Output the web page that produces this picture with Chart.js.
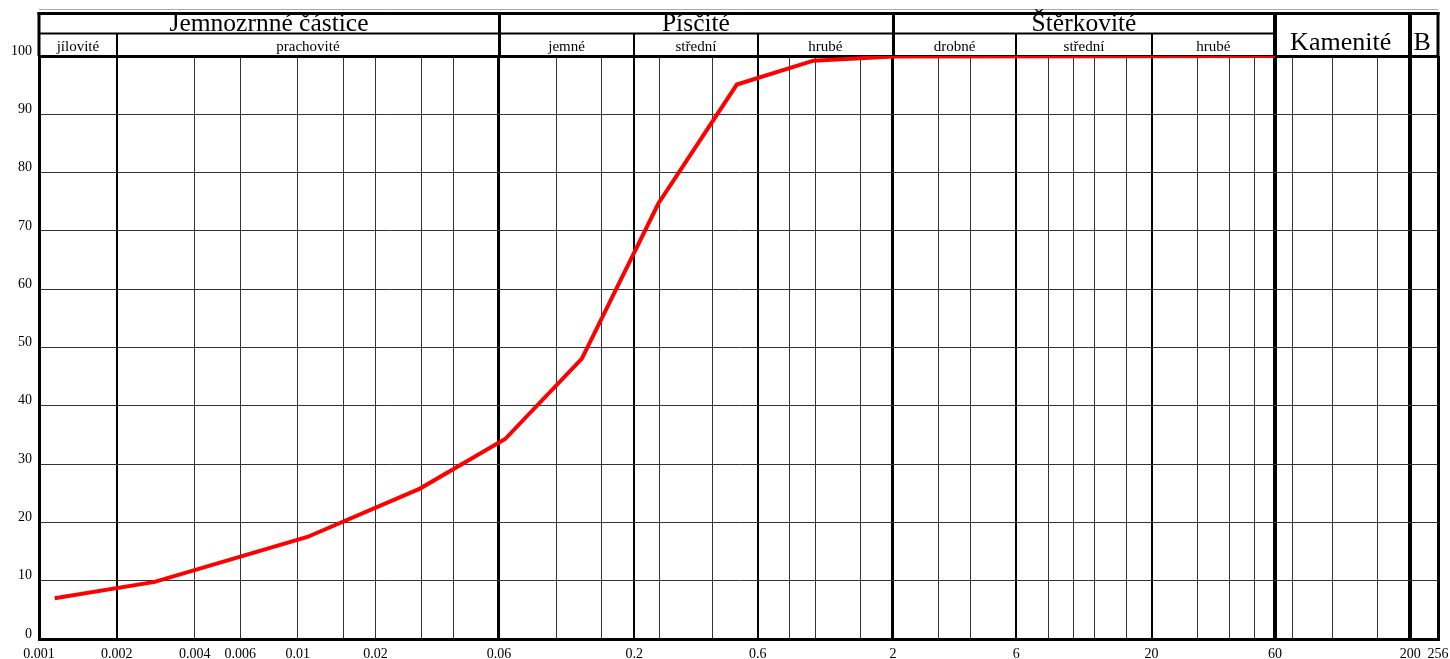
<!DOCTYPE html>
<html>
<head>
<meta charset="utf-8">
<script src="https://cdn.jsdelivr.net/npm/chart.js@4/dist/chart.umd.min.js"></script>
<style>
html,body{margin:0;padding:0;background:#fff;}
#wrap{width:1450px;height:659px;}
</style>
</head>
<body>
<div id="wrap"><canvas id="c" width="1450" height="659"></canvas></div>
<script>
// ---- data ----
const grainSize = [0.00115, 0.0028, 0.0109, 0.0297, 0.0634, 0.1255, 0.248, 0.4985, 0.986, 2, 60];
const passing   = [7.0, 9.8, 17.5, 25.8, 34.3, 48.1, 74.7, 95.1, 99.2, 99.9, 100];

const gridSizes = [0.001,0.002,0.004,0.006,0.01,0.015,0.02,0.03,0.04,0.06,0.1,0.15,0.2,0.25,0.4,0.6,0.8,1,1.5,2,3,4,6,8,10,12,16,20,30,40,50,60,70,100,150,200,256];
const labeledSizes = ['0.001','0.002','0.004','0.006','0.01','0.02','0.06','0.2','0.6','2','6','20','60','200','256'];
const yTicks = [0,10,20,30,40,50,60,70,80,90,100];

const groupNames  = ['Jemnozrnné částice','Písčité','Štěrkovité'];
const groupBounds = [0.001, 0.06, 2, 60];
const tallNames   = ['Kamenité','B'];
const tallBounds  = [60, 200, 256];
const subNames    = ['jílovité','prachovité','jemné','střední','hrubé','drobné','střední','hrubé'];
const subBounds   = [0.001, 0.002, 0.06, 0.2, 0.6, 2, 6, 20, 60];

// ---- styles ----
const SERIF = '"Liberation Serif","Times New Roman",serif';
function widthFor(v) {
  const near = (a) => Math.abs(v - a) / a < 1e-6;
  if (near(60) || near(200)) return 4;
  if (near(0.06) || near(2) || near(256) || near(0.001)) return 3;
  if (near(0.002) || near(0.2) || near(0.6) || near(6) || near(20)) return 2;
  return 1;
}
function colorFor(v) { return widthFor(v) > 1 ? '#000' : '#333'; }

const headerPlugin = {
  id: 'header',
  afterDraw(chart) {
    const {ctx, chartArea: a, scales: {x}} = chart;
    const px = v => x.getPixelForValue(v);
    const line = (x1, y1, x2, y2, w, c) => {
      ctx.beginPath(); ctx.lineWidth = w; ctx.strokeStyle = c || '#000';
      ctx.moveTo(x1, y1); ctx.lineTo(x2, y2); ctx.stroke();
    };
    const topY = 13.5, midY = 33.5;
    ctx.save();
    line(a.left, 9.5, a.right, 9.5, 1, '#aaa');
    line(a.left - 1.5, topY, a.right + 1.5, topY, 3);
    line(a.left, midY, px(60), midY, 2);
    // edges
    line(px(0.001), topY - 1.5, px(0.001), a.top, 3);
    line(a.right, topY - 1.5, a.right, a.top, 3);
    groupBounds.slice(1).forEach(v => {
      const xx = Math.round(px(v)) + (widthFor(v) % 2 ? 0.5 : 0);
      line(xx, topY, xx, a.top, widthFor(v));
    });
    tallBounds.slice(1, -1).forEach(v => line(Math.round(px(v)), topY, Math.round(px(v)), a.top, widthFor(v)));
    subBounds.slice(1, -1).forEach(v => {
      if (groupBounds.includes(v)) return;
      const xx = Math.round(px(v));
      line(xx, midY, xx, a.top, widthFor(v));
    });
    ctx.fillStyle = '#000';
    ctx.textAlign = 'center';
    ctx.textBaseline = 'alphabetic';
    ctx.font = '25.5px ' + SERIF;
    groupNames.forEach((n, i) => {
      ctx.fillText(n, (px(groupBounds[i]) + px(groupBounds[i + 1])) / 2, 31);
    });
    ctx.font = '26px ' + SERIF;
    tallNames.forEach((n, i) => {
      ctx.fillText(n, (px(tallBounds[i]) + px(tallBounds[i + 1])) / 2 - 2, 50);
    });
    ctx.font = '15px ' + SERIF;
    subNames.forEach((n, i) => {
      ctx.fillText(n, (px(subBounds[i]) + px(subBounds[i + 1])) / 2, 51);
    });
    ctx.restore();
  }
};

new Chart(document.getElementById('c'), {
  type: 'line',
  data: {
    datasets: [{
      data: grainSize.map((g, i) => ({x: g, y: passing[i]})),
      borderColor: '#ff0000',
      borderWidth: 4,
      pointRadius: 0,
      tension: 0,
      fill: false
    }]
  },
  options: {
    responsive: false,
    devicePixelRatio: 1,
    animation: false,
    layout: {padding: {top: 56, right: 12, left: 0, bottom: 0}},
    plugins: {legend: {display: false}, tooltip: {enabled: false}},
    scales: {
      x: {
        type: 'logarithmic',
        min: 0.001,
        max: 256,
        afterBuildTicks: s => { s.ticks = gridSizes.map(v => ({value: v})); },
        afterFit: s => { s.height = 20; s.paddingLeft = 0; s.paddingRight = 0; },
        ticks: {
          autoSkip: false,
          maxRotation: 0,
          minRotation: 0,
          padding: 7,
          color: '#000',
          font: {family: SERIF, size: 14},
          callback: v => labeledSizes.includes(String(v)) ? String(v) : ''
        },
        grid: {
          drawTicks: false,
          color: ctx => colorFor(ctx.tick ? ctx.tick.value : 1),
          lineWidth: ctx => widthFor(ctx.tick ? ctx.tick.value : 1)
        },
        border: {display: true, width: 3, color: '#000'}
      },
      y: {
        type: 'linear',
        min: 0,
        max: 100,
        afterBuildTicks: s => { s.ticks = yTicks.map(v => ({value: v})); },
        afterFit: s => { s.width = 39; s.paddingTop = 0; s.paddingBottom = 0; },
        ticks: {
          padding: 7,
          labelOffset: -5,
          color: '#000',
          font: {family: SERIF, size: 14},
          callback: v => String(v)
        },
        grid: {
          drawTicks: false,
          color: ctx => (ctx.tick && ctx.tick.value === 100) ? '#000' : '#333',
          lineWidth: ctx => (ctx.tick && ctx.tick.value === 100) ? 3 : 1
        },
        border: {display: true, width: 3, color: '#000'}
      }
    }
  },
  plugins: [headerPlugin]
});
</script>
</body>
</html>
